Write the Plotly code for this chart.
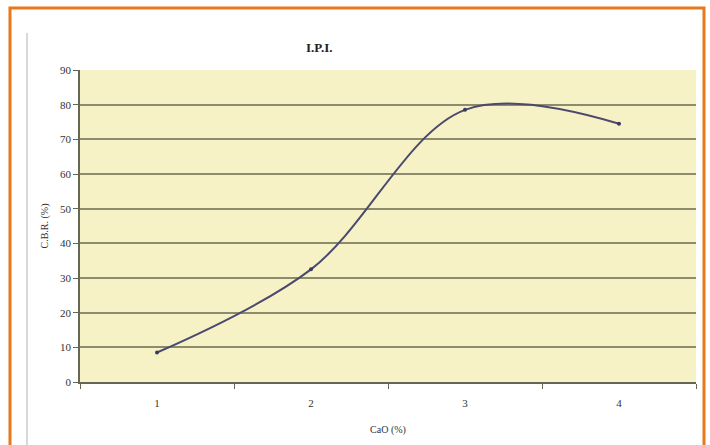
import plotly.graph_objects as go

categories = ["1", "2", "3", "4"]
cbr_values = [8.5, 32.5, 78.5, 74.5]
y_ticks = [0, 10, 20, 30, 40, 50, 60, 70, 80, 90]

L, R, T, B = 80, 14, 70, 63
W, H = 710, 445
pw, ph = W - L - R, H - T - B

def px(x):
    return (x - L) / pw

def py(y):
    return (H - B - y) / ph

SERIF = "Liberation Serif"

fig = go.Figure()
fig.add_trace(go.Scatter(
    x=categories, y=cbr_values, mode="lines+markers",
    line=dict(color="#4b4a6e", width=2, shape="spline", smoothing=1.0),
    marker=dict(size=4, color="#3a3a5a"),
    showlegend=False, cliponaxis=False,
))

fig.update_layout(
    width=W, height=H,
    margin=dict(l=L, r=R, t=T, b=B),
    paper_bgcolor="white",
    plot_bgcolor="#f6f2c6",
    font=dict(family=SERIF, size=11, color="#333333"),
    title=dict(text="<b>I.P.I.</b>", x=px(357), xanchor="center", y=1 - 47 / H, yanchor="middle",
               font=dict(family=SERIF, size=13, color="#222222")),
    xaxis=dict(
        type="category", tickson="boundaries", ticks="outside", ticklen=5, tickcolor="#666655",
        showline=True, linecolor="#666655", linewidth=1.5, showgrid=False,
        range=[-0.5, 3.5], tickfont=dict(family=SERIF, size=11, color="#333333"),
        ticklabelstandoff=10,
        title=dict(text="CaO (%)", font=dict(family=SERIF, size=10, color="#333333"), standoff=18),
    ),
    yaxis=dict(
        range=[0, 90], tickvals=y_ticks, ticks="outside", ticklen=5, tickcolor="#666655",
        showline=True, linecolor="#666655", linewidth=1.5,
        showgrid=True, gridcolor="#8c8c6c", gridwidth=2, zeroline=False,
        tickfont=dict(family=SERIF, size=11, color="#333333"),
        title=dict(text="C.B.R. (%)", font=dict(family=SERIF, size=10, color="#333333"), standoff=10),
    ),
    shapes=[
        dict(type="rect", xref="paper", yref="paper",
             x0=px(10), x1=px(704), y0=py(455), y1=py(8),
             line=dict(color="#e8781a", width=3), layer="below"),
        dict(type="line", xref="paper", yref="paper",
             x0=px(27), x1=px(27), y0=py(445), y1=py(33),
             line=dict(color="#b0b0b0", width=1), layer="below"),
    ],
)

fig.write_html("out.html")
